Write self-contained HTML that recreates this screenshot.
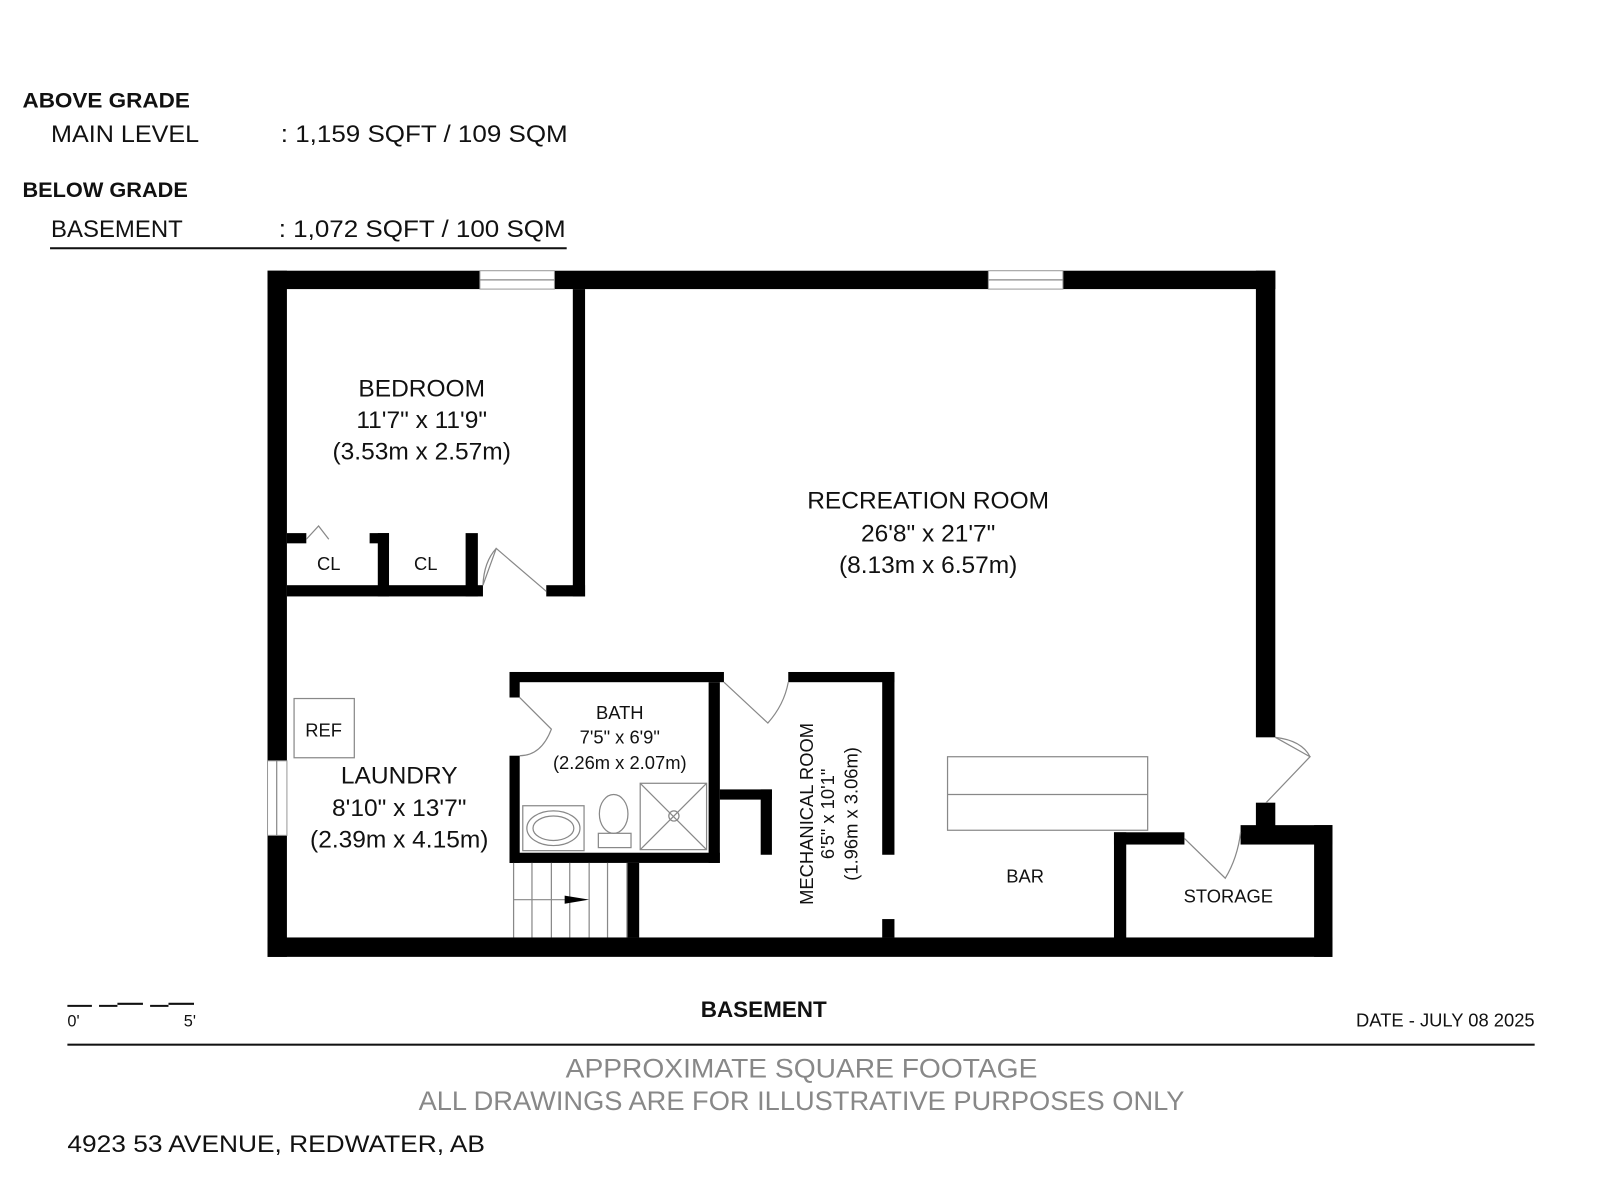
<!DOCTYPE html>
<html><head><meta charset="utf-8"><style>
html,body{margin:0;padding:0;background:#fff;width:1600px;height:1200px;overflow:hidden}
svg{display:block}
text{font-family:"Liberation Sans",sans-serif;fill:#111}
</style></head><body>
<svg width="1600" height="1200" viewBox="0 0 1567 1175" xmlns="http://www.w3.org/2000/svg">
<rect width="1567" height="1175" fill="#fff"/>
<!-- header -->
<text x="22" y="105" font-size="21" font-weight="bold" textLength="164" lengthAdjust="spacingAndGlyphs">ABOVE GRADE</text>
<text x="50" y="139" font-size="24" textLength="145" lengthAdjust="spacingAndGlyphs">MAIN LEVEL</text>
<text x="275" y="139" font-size="24" textLength="281" lengthAdjust="spacingAndGlyphs">: 1,159 SQFT / 109 SQM</text>
<text x="22" y="193" font-size="21" font-weight="bold" textLength="162" lengthAdjust="spacingAndGlyphs">BELOW GRADE</text>
<text x="50" y="232" font-size="24" textLength="129" lengthAdjust="spacingAndGlyphs">BASEMENT</text>
<text x="273" y="232" font-size="24" textLength="281" lengthAdjust="spacingAndGlyphs">: 1,072 SQFT / 100 SQM</text>
<rect x="49" y="242" width="506" height="2" fill="#111"/>
<!-- walls -->
<g fill="#000">
<rect x="262" y="265" width="208" height="18"/>
<rect x="543" y="265" width="425" height="18"/>
<rect x="1041" y="265" width="208" height="18"/>
<rect x="262" y="265" width="19" height="480"/>
<rect x="262" y="818" width="19" height="119"/>
<rect x="262" y="918" width="1043" height="19"/>
<rect x="1230" y="265" width="19" height="457"/>
<rect x="1230" y="786" width="19" height="32"/>
<rect x="1091" y="815" width="69" height="12"/>
<rect x="1215" y="808" width="90" height="19"/>
<rect x="1287" y="808" width="18" height="129"/>
<rect x="1091" y="815" width="12" height="110"/>
<rect x="561" y="283" width="12" height="301"/>
<rect x="281" y="573" width="192" height="11"/>
<rect x="535" y="573" width="38" height="11"/>
<rect x="281" y="522" width="19" height="10"/>
<rect x="362" y="522" width="19" height="10"/>
<rect x="370" y="522" width="11" height="62"/>
<rect x="456" y="522" width="12" height="62"/>
<rect x="499" y="658" width="210" height="10"/>
<rect x="499" y="658" width="10" height="25"/>
<rect x="499" y="740" width="10" height="105"/>
<rect x="499" y="835" width="206" height="10"/>
<rect x="694" y="668" width="11" height="177"/>
<rect x="705" y="773" width="51" height="10"/>
<rect x="745" y="773" width="11" height="64"/>
<rect x="614" y="845" width="12" height="73"/>
<rect x="772" y="658" width="104" height="10"/>
<rect x="864" y="658" width="12" height="179"/>
<rect x="864" y="900" width="12" height="18"/>
</g>
<g fill="#fff" stroke="#999" stroke-width="1">
<rect x="470" y="265" width="73" height="18"/>
<rect x="968" y="265" width="73" height="18"/>
<rect x="262" y="745" width="19" height="73"/>
</g>
<g fill="none" stroke="#888" stroke-width="1.2">
<line x1="470" y1="274" x2="543" y2="274"/><line x1="968" y1="274" x2="1041" y2="274"/><line x1="271" y1="745" x2="271" y2="818"/>
<path d="M300 528 L312 515 L322 528"/>
<path d="M473 573 L486 537 L535 579"/><path d="M473 573 Q474 550 486 537"/>
<path d="M509 683 L540 714 Q530 740 509 740"/>
<path d="M709 668 L752 708 Q768 690 772 668"/>
<path d="M1249 722 L1283 741 L1240 786"/><path d="M1249 722 Q1275 725 1283 741"/>
<path d="M1160 821 L1200 860 Q1212 840 1215 815"/>
<rect x="288" y="684" width="59" height="58"/>
<rect x="928" y="741" width="196" height="72"/><line x1="928" y1="778" x2="1124" y2="778"/>
<rect x="627" y="767" width="65" height="65"/><path d="M627 767 L692 832 M692 767 L627 832"/>
<circle cx="660" cy="799" r="5"/>
<rect x="512" y="789" width="60" height="44"/>
<ellipse cx="542" cy="811" rx="26" ry="17"/><ellipse cx="542" cy="811" rx="20" ry="12"/>
<ellipse cx="601" cy="797" rx="14" ry="19"/><rect x="586" y="816" width="32" height="14"/>
<path d="M503 845 V918 M521 845 V918 M540 845 V918 M558 845 V918 M577 845 V918 M595 845 V918 M614 845 V918 M503 881 H570"/>
</g>
<path d="M553 877 L577 881 L553 885 Z" fill="#000"/>
<g text-anchor="middle" font-size="24">
<text x="413" y="388">BEDROOM</text><text x="413" y="419">11'7" x 11'9"</text><text x="413" y="450">(3.53m x 2.57m)</text>
<text x="909" y="498">RECREATION ROOM</text><text x="909" y="530">26'8" x 21'7"</text><text x="909" y="561">(8.13m x 6.57m)</text>
<text x="391" y="767">LAUNDRY</text><text x="391" y="799">8'10" x 13'7"</text><text x="391" y="830">(2.39m x 4.15m)</text>
</g>
<g text-anchor="middle" font-size="18">
<text x="607" y="704">BATH</text><text x="607" y="728">7'5" x 6'9"</text><text x="607" y="753">(2.26m x 2.07m)</text>
<text x="322" y="558">CL</text><text x="417" y="558">CL</text><text x="317" y="721">REF</text>
<text x="1004" y="864">BAR</text><text x="1203" y="884">STORAGE</text>
<g transform="translate(812,797) rotate(-90)"><text x="0" y="-16">MECHANICAL ROOM</text><text x="0" y="5">6'5" x 10'1"</text><text x="0" y="28">(1.96m x 3.06m)</text></g>
</g>
<path d="M66 985 H90 M97 985 H115 M115 983 H140 M147 985 H165 M165 983 H190" stroke="#111" stroke-width="2"/>
<text x="66" y="1005" font-size="16">0'</text><text x="180" y="1005" font-size="16">5'</text>
<text x="748" y="996" font-size="22" font-weight="bold" text-anchor="middle">BASEMENT</text>
<text x="1503" y="1005" font-size="18" text-anchor="end">DATE - JULY 08 2025</text>
<rect x="66" y="1022" width="1437" height="2" fill="#111"/>
<text x="785" y="1055" font-size="26" text-anchor="middle" style="fill:#888" textLength="462" lengthAdjust="spacingAndGlyphs">APPROXIMATE SQUARE FOOTAGE</text>
<text x="785" y="1087" font-size="26" text-anchor="middle" style="fill:#888" textLength="750" lengthAdjust="spacingAndGlyphs">ALL DRAWINGS ARE FOR ILLUSTRATIVE PURPOSES ONLY</text>
<text x="66" y="1128" font-size="24" textLength="409" lengthAdjust="spacingAndGlyphs">4923 53 AVENUE, REDWATER, AB</text>
</svg>
</body></html>
